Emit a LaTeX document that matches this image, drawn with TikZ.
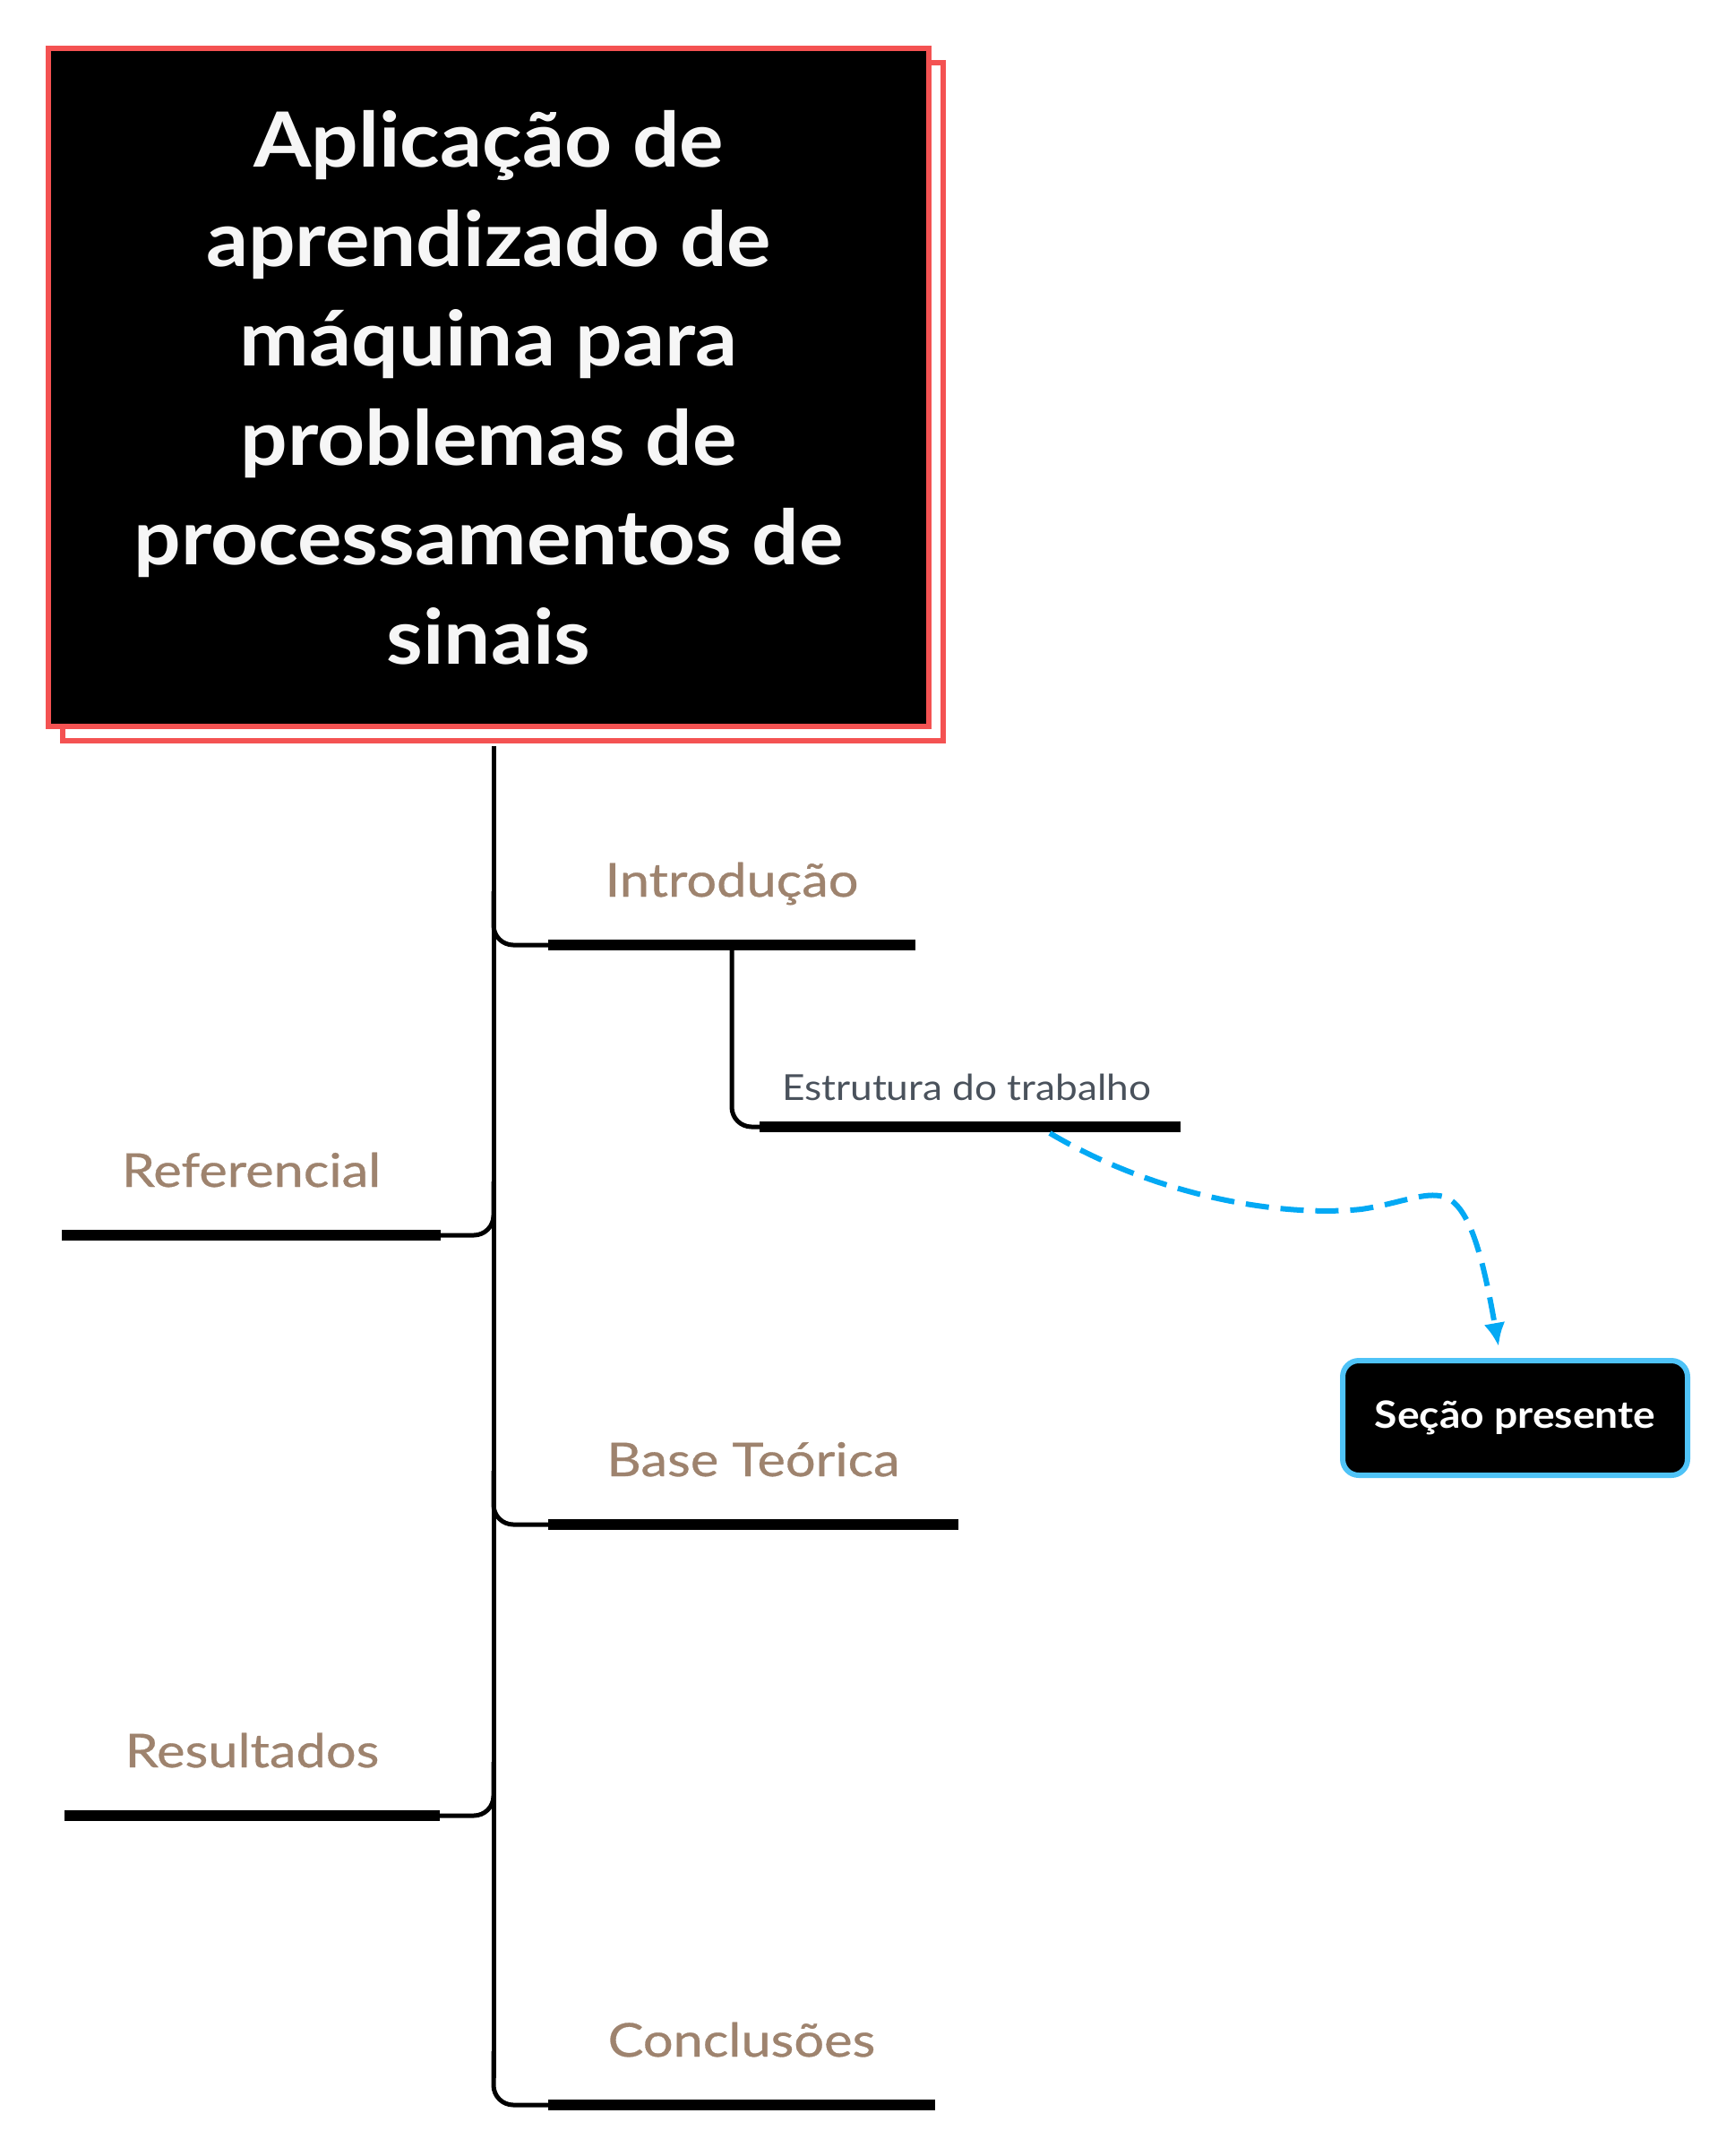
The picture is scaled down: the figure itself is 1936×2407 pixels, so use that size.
\documentclass[tikz,border=0pt]{standalone}
\usepackage{fontspec}
\setmainfont{Lato}
\newfontfamily\titlefont[FakeStretch=1.09]{Lato}
\newfontfamily\lblfont[FakeStretch=1.145,FakeBold=0.6]{Lato}
\newfontfamily\estfont[FakeStretch=1.105]{Lato}
\newfontfamily\secfont[FakeStretch=1.10]{Lato}
\usetikzlibrary{calc,shadows,arrows.meta}
\definecolor{titlered}{RGB}{244,82,82}
\definecolor{titletext}{RGB}{246,246,246}
\definecolor{lblbrown}{RGB}{158,131,110}
\definecolor{estgray}{RGB}{74,82,92}
\definecolor{dashblue}{RGB}{3,169,244}
\definecolor{secblue}{RGB}{79,195,247}
\begin{document}
\begin{tikzpicture}[x=1pt,y=-1pt,
  conn/.style={line width=5pt, rounded corners=22pt},
  barnode/.style={rectangle, fill=black, minimum height=12pt, inner sep=0pt, outer sep=0pt},
  lbl/.style={anchor=base, text=lblbrown, inner sep=0pt, font=\lblfont\fontsize{52}{60}\selectfont},
  sublbl/.style={anchor=base, text=estgray, inner sep=0pt, font=\estfont\fontsize{40}{48}\selectfont},
  titlebox/.style={rectangle, fill=black, draw=titlered, line width=6pt,
    minimum width=983pt, minimum height=757pt, align=center, text=titletext,
    font=\titlefont\bfseries\fontsize{85}{111}\selectfont,
    general shadow={shadow xshift=16pt, shadow yshift=-16pt, fill=white, draw=titlered, line width=6pt}},
  secbox/.style={rectangle, rounded corners=18pt, fill=black, draw=secblue, line width=6pt,
    minimum width=385pt, minimum height=128pt, text=white, inner sep=0pt,
    font=\secfont\bfseries\fontsize{42}{50}\selectfont},
  dasharrow/.style={draw=dashblue, line width=6pt, dash pattern=on 26pt off 13pt,
    -{Latex[length=26pt,width=24pt]}}
]
\useasboundingbox (0,0) rectangle (1936,2407);

% title
\node[titlebox] (title) at (545.5,432.5) {Aplicação de\\aprendizado de\\máquina para\\problemas de\\processamentos de\\sinais};

% trunk coordinate
\coordinate (tk) at (551,0);

% bars
\node[barnode, minimum width=410pt] (bIntro) at (817,1055) {};
\node[barnode, minimum width=423pt] (bRef)   at (280.5,1379) {};
\node[barnode, minimum width=458pt] (bBase)  at (841,1702) {};
\node[barnode, minimum width=419pt] (bRes)   at (281.5,2027) {};
\node[barnode, minimum width=432pt] (bConc)  at (828,2350) {};
\node[barnode, minimum width=470pt] (bEst)   at (1083,1258) {};

% labels
\node[lbl] (tIntro) at ($(bIntro.center)+(0,-54)$) {Introdução};
\node[lbl] (tRef)   at ($(bRef.center)+(0,-54)$) {Referencial};
\node[lbl] (tBase)  at ($(bBase.center)+(0,-54)$) {Base Teórica};
\node[lbl] (tRes)   at ($(bRes.center)+(0,-54)$) {Resultados};
\node[lbl] (tConc)  at ($(bConc.center)+(0,-54)$) {Conclusões};
\node[sublbl] (tEst) at ($(bEst.center)+(-4,-30)$) {Estrutura do trabalho};

% trunk
\draw[line width=5pt] ($(title.south -| tk)+(0,19)$) -- ($(bConc.west -| tk)+(0,-30)$);

% branches
\draw[conn] ($(bIntro.west -| tk)+(0,-60)$) |- (bIntro.west);
\draw[conn] ($(bRef.east -| tk)+(0,-60)$) |- (bRef.east);
\draw[conn] ($(bBase.west -| tk)+(0,-60)$) |- (bBase.west);
\draw[conn] ($(bRes.east -| tk)+(0,-60)$) |- (bRes.east);
\draw[conn] ($(bConc.west -| tk)+(0,-60)$) |- (bConc.west);
\draw[conn] (bIntro.south) |- (bEst.west);

% Seção presente
\node[secbox] (sec) at (1691.5,1583) {Seção presente};

% dashed arrow
\coordinate (aS) at ($(bEst.south west)+(324,1)$);
\coordinate (aE) at ($(sec.north)+(-18.5,-13)$);
\draw[dasharrow] (aS) .. controls (1292,1336) and (1430,1359) .. (1520,1350)
  .. controls (1565,1343) and (1590,1330) .. (1612,1336)
  .. controls (1640,1345) and (1655,1400) .. (aE);
\end{tikzpicture}
\end{document}
